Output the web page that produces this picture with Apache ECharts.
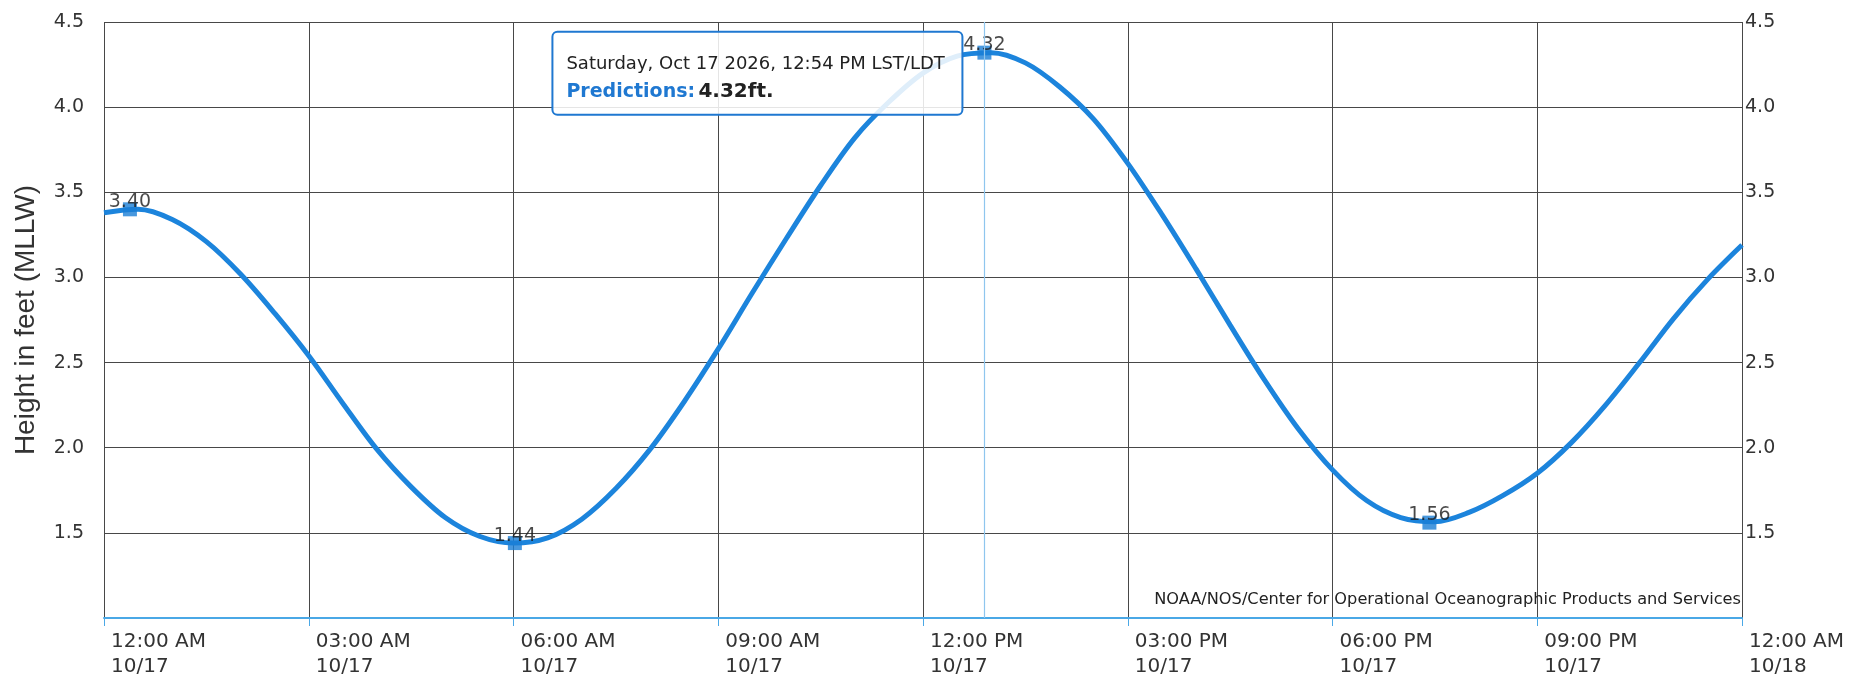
<!DOCTYPE html>
<html>
<head>
<meta charset="utf-8">
<script src="https://cdn.jsdelivr.net/npm/echarts@6/dist/echarts.min.js"></script>
<style>
html,body{margin:0;padding:0;background:#fff;}
#chart{width:1872px;height:683px;}
</style>
</head>
<body>
<div id="chart"></div>
<script>
// ---- data (hours since 12:00 AM 10/17, height in feet MLLW), read every half hour ----
const hours   = [0, 0.5, 1, 1.5, 2, 2.5, 3, 3.5, 4, 4.5, 5, 5.5, 6,
                 6.5, 7, 7.5, 8, 8.5, 9, 9.5, 10, 10.5, 11, 11.5, 12, 12.5,
                 13, 13.5, 14, 14.5, 15, 15.5, 16, 16.5, 17, 17.5, 18, 18.5, 19,
                 19.5, 20, 20.5, 21, 21.5, 22, 22.5, 23, 23.5, 24];
const heights = [3.38, 3.40, 3.34, 3.21, 3.02, 2.79, 2.54, 2.26, 1.99, 1.77, 1.59, 1.48, 1.44,
                 1.47, 1.58, 1.76, 1.99, 2.27, 2.58, 2.91, 3.23, 3.54, 3.82, 4.03, 4.20, 4.30,
                 4.32, 4.26, 4.12, 3.93, 3.67, 3.37, 3.05, 2.72, 2.40, 2.11, 1.87, 1.69, 1.59,
                 1.565, 1.62, 1.72, 1.85, 2.03, 2.25, 2.50, 2.76, 2.99, 3.19];

// high / low predictions
const hiloHours   = [0.38, 6.02, 12.9, 19.42];
const hiloHeights = [3.40, 1.44, 4.32, 1.56];
const hiloLabels  = ['3.40', '1.44', '4.32', '1.56'];

// axis tick labels
const xTickLabels = ['12:00 AM\n10/17', '03:00 AM\n10/17', '06:00 AM\n10/17', '09:00 AM\n10/17',
                     '12:00 PM\n10/17', '03:00 PM\n10/17', '06:00 PM\n10/17', '09:00 PM\n10/17', '12:00 AM\n10/18'];
const yTickValues = [1.5, 2.0, 2.5, 3.0, 3.5, 4.0, 4.5];
const yTickLabels = ['1.5', '2.0', '2.5', '3.0', '3.5', '4.0', '4.5'];

// hovered point (tooltip)
const hoverIndex = 2;
const tooltipDate = 'Saturday, Oct 17 2026, 12:54 PM LST/LDT';
const tooltipSeries = 'Predictions:';
const tooltipValue = '4.32ft.';

const credits = 'NOAA/NOS/Center for Operational Oceanographic Products and Services';
const yTitle = 'Height in feet (MLLW)';

// ---- build line data (readings + high/low points) ----
const pts = hours.map((h, i) => [h, heights[i]]);
hiloHours.forEach((h, i) => {
  if (!pts.some(p => Math.abs(p[0] - h) < 0.2)) pts.push([h, hiloHeights[i]]);
});
pts.sort((a, b) => a[0] - b[0]);

const FONT = '"DejaVu Sans", Verdana, sans-serif';
const BLUE = '#1c84dc';
const GRID = '#484848';
const AXISBLUE = '#4aa8e6';

const chart = echarts.init(document.getElementById('chart'));

const yFmt = v => {
  const k = yTickValues.findIndex(t => Math.abs(t - v) < 1e-6);
  return k >= 0 ? yTickLabels[k] : '';
};

chart.setOption({
  animation: false,
  backgroundColor: '#ffffff',
  grid: { left: 104, right: 130, top: 22, bottom: 65 },
  xAxis: {
    type: 'value', min: 0, max: 24, interval: 3,
    axisLine: { show: true, lineStyle: { color: AXISBLUE, width: 2 } },
    axisTick: { show: true, length: 8, lineStyle: { color: AXISBLUE, width: 1 } },
    splitLine: { show: true, lineStyle: { color: GRID, width: 1 } },
    axisLabel: {
      formatter: v => xTickLabels[Math.round(v / 3)] || '',
      align: 'left', margin: 11, padding: [0, 0, 0, 7],
      color: '#333', fontFamily: FONT, fontSize: 20, lineHeight: 25,
      showMinLabel: true, showMaxLabel: true
    }
  },
  yAxis: [
    {
      type: 'value', min: 1, max: 4.5, interval: 0.5, position: 'left',
      axisLine: { show: false }, axisTick: { show: false },
      splitLine: { show: true, lineStyle: { color: GRID, width: 1 } },
      axisLabel: { formatter: yFmt, color: '#333', fontFamily: FONT, fontSize: 19, margin: 20 }
    },
    {
      type: 'value', min: 1, max: 4.5, interval: 0.5, position: 'right',
      axisLine: { show: false }, axisTick: { show: false },
      splitLine: { show: false },
      axisLabel: { formatter: yFmt, color: '#333', fontFamily: FONT, fontSize: 19, margin: 3 }
    }
  ],
  series: [
    {
      name: 'Predictions', type: 'line', data: pts, smooth: 0.33,
      showSymbol: false, symbol: 'none',
      lineStyle: { color: BLUE, width: 5 },
      z: 3,
      markLine: {
        silent: true, symbol: 'none', label: { show: false },
        lineStyle: { color: '#8fc6ee', width: 1.2, type: 'solid' },
        data: [{ xAxis: hiloHours[hoverIndex] }]
      }
    },
    {
      name: 'HiLo', type: 'scatter',
      data: hiloHours.map((h, i) => [h, hiloHeights[i]]),
      symbol: 'rect', symbolSize: 14,
      itemStyle: { color: '#1a7ed6' },
      z: 4,
      label: {
        show: true, position: 'top', distance: -9,
        formatter: p => hiloLabels[p.dataIndex],
        color: '#1a1a1a', fontFamily: FONT, fontSize: 19
      }
    }
  ]
});

// annotations positioned from data via the chart's own scales
const peak = chart.convertToPixel({ gridIndex: 0 }, [hiloHours[hoverIndex], hiloHeights[hoverIndex]]);
const boxW = 410, boxH = 83;
const boxX = peak[0] - 22 - boxW;
const boxY = peak[1] - 21;
const gTop = chart.convertToPixel({ yAxisIndex: 0 }, 4.5);
const gBot = chart.convertToPixel({ yAxisIndex: 0 }, 1);
const gRight = chart.convertToPixel({ xAxisIndex: 0 }, 24);

chart.setOption({
  graphic: [
    {
      type: 'text', rotation: Math.PI / 2,
      style: { text: yTitle, fill: '#333', font: '28px "Liberation Sans", Arial, sans-serif', textAlign: 'center', textVerticalAlign: 'middle' },
      x: 26, y: (gTop + gBot) / 2
    },
    {
      type: 'text', z: 10,
      style: { text: credits, fill: '#222', font: '16.2px ' + FONT, textAlign: 'right', textVerticalAlign: 'bottom' },
      x: gRight - 1, y: gBot - 10
    },
    {
      type: 'group', z: 100, x: boxX, y: boxY,
      children: [
        { type: 'rect', shape: { x: 0, y: 0, width: boxW, height: boxH, r: 5 },
          style: { fill: 'rgba(255,255,255,0.86)', stroke: '#1f78d1', lineWidth: 2 }, z: 100 },
        { type: 'text', x: 14, y: 33, z: 101,
          style: { text: tooltipDate, fill: '#222', font: '18px ' + FONT, textVerticalAlign: 'middle' } },
        { type: 'text', x: 14, y: 60, z: 101,
          style: {
            text: '{a|' + tooltipSeries + '} {b|' + tooltipValue + '}',
            textVerticalAlign: 'middle',
            rich: {
              a: { fill: '#1f78d1', font: 'bold 19px ' + FONT },
              b: { fill: '#222', font: 'bold 20px ' + FONT }
            }
          } }
      ]
    }
  ]
});
</script>
</body>
</html>
